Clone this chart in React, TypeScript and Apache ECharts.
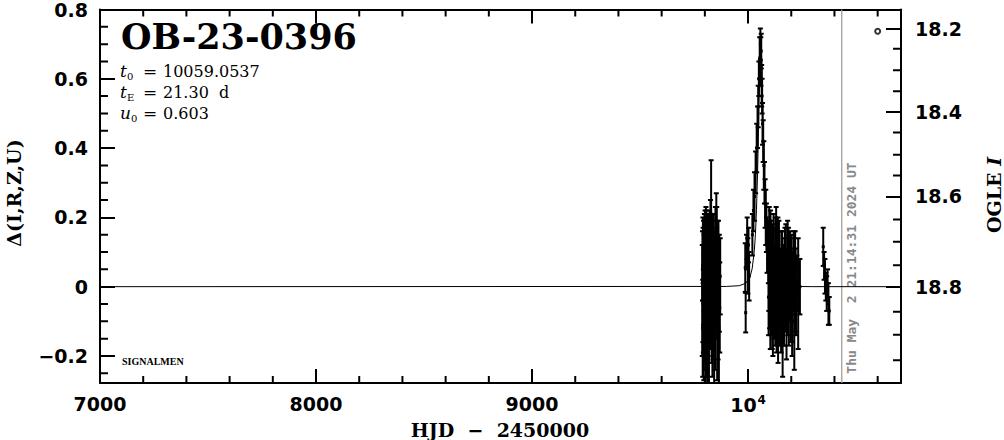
import React, { useEffect, useRef } from "react";
import * as echarts from "echarts";

// ---- data ----
const X_MIN = 7000;
const X_MAX = 10708;
const Y_MIN = -0.278;
const Y_MAX = 0.8;

const xMajorTicks = [7000, 8000, 9000, 10000];
const xMinorTicks = [7200, 7400, 7600, 7800, 8200, 8400, 8600, 8800, 9200, 9400, 9600, 9800, 10200, 10400, 10600];
const yMajorTicks = [-0.2, 0, 0.2, 0.4, 0.6, 0.8];
const yMinorTicks = [-0.25, -0.15, -0.1, -0.05, 0.05, 0.1, 0.15, 0.25, 0.3, 0.35, 0.45, 0.5, 0.55, 0.65, 0.7, 0.75];

// right axis: OGLE I magnitude labels and their positions on the Δ scale
const magLabels = ["18.2", "18.4", "18.6", "18.8"];
const magPos = [0.744, 0.505, 0.261, 0];
const magMinorPos = [0.687, 0.625, 0.564, 0.445, 0.381, 0.321, 0.194, 0.13, 0.062, -0.072, -0.139, -0.212];

// model light curve
const modelT = [7000, 9900, 9959, 9989, 10009, 10019, 10029, 10034, 10039, 10044, 10049, 10054, 10059.05, 10064, 10069, 10074, 10079, 10084, 10089, 10099, 10109, 10129, 10159, 10209, 10300, 10708];
const modelD = [0, 0.0007, 0.0028, 0.0097, 0.028, 0.052, 0.104, 0.15, 0.222, 0.328, 0.476, 0.639, 0.72, 0.639, 0.476, 0.328, 0.222, 0.15, 0.104, 0.052, 0.028, 0.0097, 0.0028, 0.0007, 0.0001, 0];

// OGLE observations: time, Δ, error
const obsT = [
  9788, 9789, 9790, 9791, 9792, 9793, 9794, 9795, 9796, 9797, 9798, 9799, 9800, 9801, 9802, 9803, 9804, 9805, 9806, 9807,
  9808, 9809, 9810, 9811, 9812, 9813, 9814, 9815, 9816, 9817, 9818, 9819, 9820, 9822, 9824, 9826, 9829, 9831, 9833, 9835,
  9837, 9839, 9841, 9843, 9845, 9847, 9849, 9851, 9853, 9855, 9857, 9859, 9861, 9863, 9865, 9867, 9869, 9871,
  9987, 9989, 9993, 9996, 9999, 10002, 10005, 10020, 10025, 10030, 10035, 10040, 10044, 10047, 10050, 10054, 10057, 10059,
  10061, 10063, 10065, 10067, 10070, 10073, 10076, 10079, 10082, 10085, 10088,
  10094, 10096, 10098, 10100, 10102, 10104, 10106, 10108, 10110, 10112, 10114, 10116, 10118, 10120, 10122, 10124, 10126,
  10128, 10130, 10132, 10134, 10136, 10138, 10140, 10142, 10146, 10148, 10150, 10153, 10156, 10160, 10163, 10166, 10169,
  10172, 10175, 10178, 10181, 10184, 10187, 10190, 10194, 10198, 10202, 10206, 10210, 10214, 10218, 10222, 10226, 10232, 10240,
  10095, 10099, 10103, 10107, 10111, 10115, 10119, 10123, 10127, 10131, 10135, 10139, 10143, 10151, 10158, 10165, 10171,
  10177, 10183, 10189, 10196, 10204, 10212, 10220,
  10348, 10352, 10356, 10360, 10364, 10368, 10372, 10376,
];
const obsD = [
  -0.04, 0.06, -0.12, 0.02, 0.09, -0.07, 0.04, -0.16, 0.07, -0.02, 0.1, -0.09, 0.01, 0.12, -0.05, 0.05, -0.13, 0.1, -0.01, 0.08,
  -0.1, 0.03, -0.06, 0.06, -0.18, 0.0, 0.11, -0.08, 0.04, -0.03, 0.09, -0.14, 0.02, 0.07, -0.06, 0.13, 0.21, -0.04, 0.08, -0.11,
  0.05, -0.02, 0.1, -0.15, 0.03, -0.07, 0.09, -0.03, 0.12, 0.06, -0.09, 0.04, -0.05, 0.07, -0.12, 0.01, -0.06, 0.03,
  0.055, -0.075, 0.1, 0.14, 0.06, 0.12, 0.03, 0.15, 0.22, 0.26, 0.33, 0.4, 0.46, 0.52, 0.6, 0.66, 0.7, 0.65,
  0.68, 0.58, 0.55, 0.47, 0.42, 0.35, 0.3, 0.24, 0.2, 0.17, 0.12,
  0.1, 0.05, 0.15, -0.02, 0.08, 0.12, -0.05, 0.03, 0.09, -0.08, 0.06, 0.0, 0.11, -0.03, 0.04, 0.02, -0.06,
  0.02, 0.16, -0.1, 0.05, -0.02, 0.08, -0.07, 0.01, 0.06, -0.04, 0.03, -0.08, 0.07, -0.14, 0.02, -0.05, 0.05,
  -0.02, 0.08, -0.09, 0.03, -0.04, 0.06, -0.01, 0.04, -0.06, 0.07, -0.03, 0.02, -0.1, 0.05, -0.04, 0.01, -0.02, 0.0,
  -0.03, 0.07, -0.06, 0.1, 0.01, -0.09, 0.05, -0.04, 0.09, -0.01, 0.04, -0.11, 0.07, -0.03, 0.05, -0.07, 0.04,
  0.0, 0.09, -0.05, 0.03, -0.08, 0.06, -0.01,
  0.115, 0.06, 0.03, 0.0, -0.02, 0.01, -0.05, -0.07,
];
const obsE = [
  0.16, 0.1, 0.14, 0.18, 0.08, 0.12, 0.15, 0.11, 0.09, 0.17, 0.11, 0.13, 0.12, 0.1, 0.19, 0.13, 0.15, 0.13, 0.11, 0.14,
  0.16, 0.09, 0.14, 0.12, 0.13, 0.16, 0.1, 0.12, 0.17, 0.1, 0.12, 0.14, 0.11, 0.15, 0.12, 0.12, 0.155, 0.18, 0.13, 0.15,
  0.14, 0.19, 0.11, 0.16, 0.13, 0.17, 0.14, 0.12, 0.15, 0.17, 0.18, 0.15, 0.16, 0.12, 0.19, 0.14, 0.13, 0.11,
  0.07, 0.057, 0.05, 0.06, 0.08, 0.05, 0.07, 0.06, 0.06, 0.07, 0.06, 0.07, 0.06, 0.06, 0.05, 0.06, 0.045, 0.07,
  0.05, 0.06, 0.05, 0.06, 0.06, 0.07, 0.06, 0.07, 0.08, 0.07, 0.08,
  0.09, 0.12, 0.08, 0.1, 0.11, 0.1, 0.09, 0.13, 0.08, 0.1, 0.12, 0.09, 0.1, 0.12, 0.08, 0.06, 0.11,
  0.1, 0.07, 0.09, 0.11, 0.08, 0.12, 0.1, 0.09, 0.1, 0.13, 0.08, 0.11, 0.09, 0.12, 0.1, 0.12, 0.09,
  0.11, 0.1, 0.12, 0.08, 0.1, 0.11, 0.09, 0.12, 0.1, 0.08, 0.13, 0.09, 0.14, 0.11, 0.1, 0.08, 0.16, 0.08,
  0.11, 0.1, 0.12, 0.09, 0.13, 0.11, 0.12, 0.1, 0.11, 0.12, 0.1, 0.11, 0.12, 0.12, 0.11, 0.1, 0.13,
  0.11, 0.1, 0.12, 0.11, 0.12, 0.1, 0.12,
  0.055, 0.04, 0.05, 0.04, 0.05, 0.04, 0.06, 0.04,
];

const nowLineT = 10433.8;
const markerT = 10600;
const markerD = 0.737;

// event parameters shown in the upper-left
const paramSymbols = ["t", "t", "u"];
const paramSubs = ["0", "E", "0"];
const paramValues = ["10059.0537", "21.30  d", "0.603"];

const TICK_FONT = "DejaVu Sans";
const SERIF = "DejaVu Serif";

const GRID = { left: 100, top: 7, width: 801, height: 376 };

export default function App() {
  const ref = useRef<HTMLDivElement>(null);

  useEffect(() => {
    if (!ref.current) return;
    const chart = echarts.init(ref.current, null, { renderer: "svg" });

    const obsData = obsT.map((t, i) => [t, obsD[i], obsE[i]]);
    const modelData = modelT.map((t, i) => [t, modelD[i]]);

    // minor tick segments in data units (lengths of 7 px / 8 px converted by the grid scale)
    const dy = (7 * (Y_MAX - Y_MIN)) / GRID.height;
    const dx = (8 * (X_MAX - X_MIN)) / GRID.width;
    const tickSegs: any[] = [];
    xMinorTicks.forEach((v) => {
      tickSegs.push([v, Y_MIN], [v, Y_MIN + dy], "-");
      tickSegs.push([v, Y_MAX], [v, Y_MAX - dy], "-");
    });
    yMinorTicks.forEach((v) => {
      tickSegs.push([X_MIN, v], [X_MIN + dx, v], "-");
    });
    magMinorPos.forEach((v) => {
      tickSegs.push([X_MAX, v], [X_MAX - dx, v], "-");
    });

    const axisLine = { show: true, onZero: false, lineStyle: { color: "#000", width: 2 } };
    const tickStyle = { color: "#000", width: 2 };
    const labelBase = {
      fontFamily: TICK_FONT,
      fontWeight: "bold" as const,
      fontSize: 19,
      color: "#000",
    };

    const xCommon = { type: "value", min: X_MIN, max: X_MAX, splitLine: { show: false }, gridIndex: 0 };
    const yCommon = { type: "value", min: Y_MIN, max: Y_MAX, splitLine: { show: false }, gridIndex: 0 };

    const texts: any[] = [
      {
        type: "text",
        left: 121,
        top: 19,
        style: { text: "OB-23-0396", fontFamily: SERIF, fontSize: 35, fontWeight: "bold", fill: "#000" },
      },
      {
        type: "text",
        x: 122,
        y: 361,
        style: {
          text: "SIGNALMEN",
          fontFamily: "Liberation Serif",
          fontSize: 10,
          fontWeight: "bold",
          fill: "#000",
          verticalAlign: "middle",
        },
      },
      {
        type: "text",
        x: 500,
        y: 430,
        style: {
          text: "HJD  \u2212  2450000",
          fontFamily: SERIF,
          fontSize: 19,
          fontWeight: "bold",
          fill: "#000",
          align: "center",
          verticalAlign: "middle",
        },
      },
      {
        type: "text",
        x: 14,
        y: 193,
        rotation: Math.PI / 2,
        style: {
          text: "\u0394(I,R,Z,U)",
          fontFamily: SERIF,
          fontSize: 19,
          fontWeight: "bold",
          fill: "#000",
          align: "center",
          verticalAlign: "middle",
        },
      },
      {
        type: "text",
        x: 994,
        y: 195,
        rotation: Math.PI / 2,
        style: {
          text: "{r|OGLE }{i|I}",
          align: "center",
          verticalAlign: "middle",
          rich: {
            r: { fontFamily: SERIF, fontSize: 19, fontWeight: "bold", fill: "#000" },
            i: { fontFamily: SERIF, fontSize: 19, fontWeight: "bold", fontStyle: "italic", fill: "#000" },
          },
        },
      },
      {
        type: "text",
        x: 851,
        y: 268,
        rotation: Math.PI / 2,
        style: {
          text: "Thu May  2 21:14:31 2024 UT",
          fontFamily: "DejaVu Sans Mono",
          fontSize: 13,
          fontWeight: "bold",
          fill: "#888",
          align: "center",
          verticalAlign: "middle",
        },
      },
    ];
    paramSymbols.forEach((sym, i) => {
      const cy = 71 + i * 21;
      texts.push(
        {
          type: "text",
          x: 120,
          y: cy,
          style: { text: sym, fontFamily: SERIF, fontSize: 17, fontStyle: "italic", fill: "#000", verticalAlign: "middle" },
        },
        {
          type: "text",
          x: sym === "u" ? 131 : 127,
          y: cy + 5,
          style: { text: paramSubs[i], fontFamily: SERIF, fontSize: 10, fill: "#000", verticalAlign: "middle" },
        },
        {
          type: "text",
          x: 143,
          y: cy,
          style: { text: "=", fontFamily: SERIF, fontSize: 17, fill: "#000", verticalAlign: "middle" },
        },
        {
          type: "text",
          x: 163,
          y: cy,
          style: { text: paramValues[i], fontFamily: SERIF, fontSize: 16, fill: "#000", verticalAlign: "middle" },
        }
      );
    });

    const option: any = {
      animation: false,
      backgroundColor: "#fff",
      grid: { ...GRID, containLabel: false },
      xAxis: [
        {
          ...xCommon,
          position: "bottom",
          axisLine,
          axisTick: { show: true, inside: true, length: 14, lineStyle: tickStyle, customValues: xMajorTicks },
          axisLabel: {
            show: true,
            margin: 11,
            customValues: xMajorTicks,
            ...labelBase,
            formatter: (v: number) => (v === 10000 ? "{b|10}{s|4}" : "{b|" + v + "}"),
            rich: {
              b: { ...labelBase },
              s: { ...labelBase, fontSize: 12, padding: [0, 0, 10, 1] },
            },
          },
        },
        {
          ...xCommon,
          position: "top",
          axisLine,
          axisTick: { show: true, inside: true, length: 14, lineStyle: tickStyle, customValues: xMajorTicks },
          axisLabel: { show: false },
        },
      ],
      yAxis: [
        {
          ...yCommon,
          position: "left",
          axisLine,
          axisTick: { show: true, inside: true, length: 15, lineStyle: tickStyle, customValues: yMajorTicks },
          axisLabel: {
            show: true,
            margin: 12,
            customValues: yMajorTicks,
            ...labelBase,
            formatter: (v: number) => {
              const r = Math.round(v * 10) / 10;
              if (r === 0) return "0";
              return (r < 0 ? "\u2212" : "") + Math.abs(r).toFixed(1);
            },
          },
        },
        {
          ...yCommon,
          position: "right",
          axisLine,
          axisTick: { show: true, inside: true, length: 15, lineStyle: tickStyle, customValues: magPos },
          axisLabel: {
            show: true,
            margin: 14,
            customValues: magPos,
            ...labelBase,
            formatter: (v: number) => {
              let best = 0;
              let bd = Infinity;
              magPos.forEach((p, i) => {
                const d = Math.abs(p - v);
                if (d < bd) {
                  bd = d;
                  best = i;
                }
              });
              return magLabels[best];
            },
          },
        },
      ],
      series: [
        {
          type: "line",
          xAxisIndex: 0,
          yAxisIndex: 0,
          data: [
            [nowLineT, Y_MIN],
            [nowLineT, Y_MAX],
          ],
          symbol: "none",
          lineStyle: { color: "#999", width: 1.2 },
          silent: true,
        },
        {
          type: "line",
          xAxisIndex: 0,
          yAxisIndex: 0,
          data: tickSegs,
          symbol: "none",
          connectNulls: false,
          clip: false,
          lineStyle: { color: "#000", width: 2 },
          silent: true,
          z: 6,
        },
        {
          type: "line",
          xAxisIndex: 0,
          yAxisIndex: 0,
          data: modelData,
          symbol: "none",
          smooth: false,
          lineStyle: { color: "#000", width: 1 },
          silent: true,
          z: 3,
        },
        {
          type: "custom",
          xAxisIndex: 0,
          yAxisIndex: 0,
          clip: true,
          data: obsData,
          encode: { x: 0, y: 1 },
          z: 4,
          silent: true,
          renderItem: (params: any, api: any) => {
            const x = api.value(0);
            const d = api.value(1);
            const e = api.value(2);
            const top = api.coord([x, d + e]);
            const bot = api.coord([x, d - e]);
            const c = api.coord([x, d]);
            const st = { stroke: "#000", lineWidth: 2 };
            return {
              type: "group",
              children: [
                { type: "line", shape: { x1: top[0], y1: top[1], x2: bot[0], y2: bot[1] }, style: st },
                { type: "line", shape: { x1: top[0] - 2.5, y1: top[1], x2: top[0] + 2.5, y2: top[1] }, style: st },
                { type: "line", shape: { x1: bot[0] - 2.5, y1: bot[1], x2: bot[0] + 2.5, y2: bot[1] }, style: st },
                { type: "rect", shape: { x: c[0] - 1.5, y: c[1] - 1.5, width: 3, height: 3 }, style: { fill: "#000" } },
              ],
            };
          },
        },
        {
          type: "scatter",
          xAxisIndex: 0,
          yAxisIndex: 0,
          data: [[markerT, markerD]],
          symbol: "circle",
          symbolSize: 5,
          itemStyle: { color: "#fff", borderColor: "#000", borderWidth: 2 },
          silent: true,
          z: 5,
        },
      ],
      graphic: texts,
    };

    chart.setOption(option);

    return () => {
      chart.dispose();
    };
  }, []);

  return (
    <div
      ref={ref}
      style={{ position: "fixed", left: 0, top: 0, width: 1004, height: 440, background: "#fff" }}
    />
  );
}
